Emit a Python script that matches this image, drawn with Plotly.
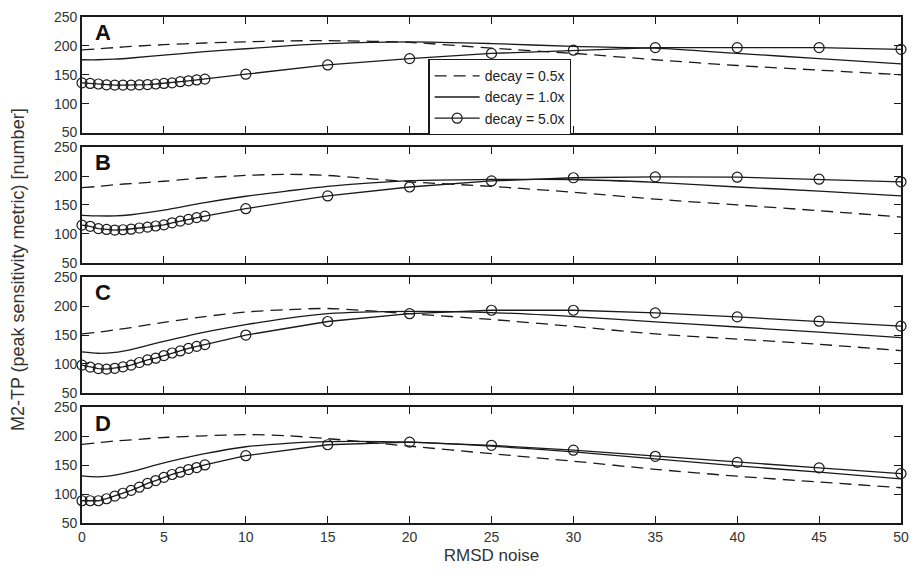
import plotly.graph_objects as go

# ---------------- data ----------------
x_circ = [0, 0.5, 1, 1.5, 2, 2.5, 3, 3.5, 4, 4.5, 5, 5.5, 6, 6.5, 7, 7.5,
          10, 15, 20, 25, 30, 35, 40, 45, 50]
x_line = [0, 1, 2, 3, 5, 7.5, 10, 12.5, 15, 20, 25, 30, 35, 40, 45, 50]

panel_labels = ["A", "B", "C", "D"]
series_names = ["decay = 0.5x", "decay = 1.0x", "decay = 5.0x"]

# decay = 0.5x (dashed)
dash_A = [193, 195, 197, 199, 202, 205, 207, 208.5, 209, 206, 196, 187, 176, 166, 158, 150]
dash_B = [180, 182, 185, 187, 191, 197, 201, 203, 201, 190, 182, 172, 160, 150, 140, 129]
dash_C = [152, 155, 159, 163, 172, 182, 190, 194, 196, 187, 177, 165, 152, 143, 134, 123]
dash_D = [186, 189, 192, 194, 198, 201, 203, 201, 196, 183, 170, 157, 143, 131, 121, 111]

# decay = 1.0x (solid)
sol_A = [176, 176, 177, 179, 184, 190, 195, 200, 204, 207, 204, 199, 196, 187, 178, 169]
sol_B = [132, 131, 131, 133, 141, 154, 165, 174, 182, 192, 194, 194, 189, 181, 174, 165.5]
sol_C = [121, 118.5, 120, 125, 139, 155, 168, 179, 187, 191, 189, 182, 173, 164, 155, 145.5]
sol_D = [131.5, 130, 133, 139, 154, 170, 182, 188, 191, 190, 183, 173, 161, 149, 138, 126.5]

# decay = 5.0x (circles)
circ_A = [136, 135, 134, 132.5, 132, 132, 132, 132.5, 133, 134, 135, 136, 138, 139.5, 141, 142.5,
          151, 167, 178, 187, 192.5, 197, 197, 197, 194]
circ_B = [115, 113, 109, 107.5, 106.5, 107, 108, 110, 111.5, 113.5, 115.5, 119, 122, 125, 128, 130.5,
          143.5, 165.5, 181, 191.5, 197, 198.5, 198, 194.5, 190]
circ_C = [98, 94.5, 92, 91, 92.5, 95, 98, 102.5, 107, 110, 114.5, 119, 122.5, 127, 130.5, 133.5,
          150, 173.5, 187, 193, 193, 188.5, 181.5, 174, 165.5]
circ_D = [88.5, 88.5, 88.5, 92, 96.5, 101.5, 106.5, 112, 118.5, 123.5, 129, 134, 138, 142.5, 146, 150.5,
          166.5, 185.5, 190, 184.5, 176, 165.5, 155, 145.5, 135.5]

dash_all = [dash_A, dash_B, dash_C, dash_D]
sol_all = [sol_A, sol_B, sol_C, sol_D]
circ_all = [circ_A, circ_B, circ_C, circ_D]

x_ticks = [0, 5, 10, 15, 20, 25, 30, 35, 40, 45, 50]
y_ticks = [50, 100, 150, 200, 250]

# ---------------- figure ----------------
INK = "#1a1a1a"
FONT = "Liberation Sans, Arial, Helvetica, sans-serif"

fig = go.Figure()

# panel domains (top to bottom)
ph = 0.2283
gap = (1 - 4 * ph) / 3
domains = []
for i in range(4):
    top = 1 - i * (ph + gap)
    domains.append([top - ph, top])

for i in range(4):
    xa = "x" if i == 0 else f"x{i+1}"
    ya = "y" if i == 0 else f"y{i+1}"
    show = i == 0
    fig.add_trace(go.Scatter(
        x=x_line, y=dash_all[i], mode="lines", name=series_names[0],
        line=dict(color=INK, width=1.3, dash="12px,7px", shape="spline", smoothing=0.8),
        xaxis=xa, yaxis=ya, showlegend=show, legendgroup="a"))
    fig.add_trace(go.Scatter(
        x=x_line, y=sol_all[i], mode="lines", name=series_names[1],
        line=dict(color=INK, width=1.3, shape="spline", smoothing=0.8),
        xaxis=xa, yaxis=ya, showlegend=show, legendgroup="b"))
    fig.add_trace(go.Scatter(
        x=x_circ, y=circ_all[i], mode="lines+markers", name=series_names[2],
        line=dict(color=INK, width=1.3),
        marker=dict(symbol="circle-open", size=10, color=INK, line=dict(width=1.2, color=INK)),
        cliponaxis=False,
        xaxis=xa, yaxis=ya, showlegend=show, legendgroup="c"))

axis_common = dict(
    showline=True, linecolor=INK, linewidth=1.8, mirror="ticks",
    ticks="inside", ticklen=7, tickwidth=1, tickcolor=INK,
    showgrid=False, zeroline=False,
    tickfont=dict(family=FONT, size=14, color="#333"),
)

layout = dict(
    width=918, height=576,
    margin=dict(l=82, r=9, t=15, b=53),
    paper_bgcolor="white", plot_bgcolor="white",
    font=dict(family=FONT, color="#333"),
    legend=dict(
        x=0.423, y=0.917, xanchor="left", yanchor="top",
        bgcolor="white", bordercolor=INK, borderwidth=1.2,
        font=dict(family=FONT, size=14, color="#222"),
        tracegroupgap=0, itemwidth=45,
    ),
    showlegend=True,
)

for i in range(4):
    xkey = "xaxis" if i == 0 else f"xaxis{i+1}"
    ykey = "yaxis" if i == 0 else f"yaxis{i+1}"
    xanchor = "y" if i == 0 else f"y{i+1}"
    yanchor = "x" if i == 0 else f"x{i+1}"
    layout[xkey] = dict(axis_common, range=[0, 50], tickvals=x_ticks,
                        showticklabels=(i == 3), anchor=xanchor, domain=[0, 1],
                        **({} if i == 0 else {"matches": "x"}))
    layout[ykey] = dict(axis_common, range=[50, 250], tickvals=y_ticks,
                        anchor=yanchor, domain=domains[i])

layout["xaxis4"]["title"] = dict(text="RMSD noise", font=dict(family=FONT, size=17, color="#333"),
                                 standoff=5)

fig.update_layout(**layout)

# panel letters
for i, lab in enumerate(panel_labels):
    xr = "x domain" if i == 0 else f"x{i+1} domain"
    yr = "y domain" if i == 0 else f"y{i+1} domain"
    fig.add_annotation(text=f"<b>{lab}</b>", x=0.013, y=0.99, xref=xr, yref=yr,
                       xanchor="left", yanchor="top", showarrow=False,
                       font=dict(family=FONT, size=22, color="#111"))

# shared y title
fig.add_annotation(text="M2-TP (peak sensitivity metric) [number]",
                   x=-0.078, y=0.5, xref="paper", yref="paper",
                   textangle=-90, showarrow=False, xanchor="center", yanchor="middle",
                   font=dict(family=FONT, size=18, color="#333"))

fig.write_html("out.html")
